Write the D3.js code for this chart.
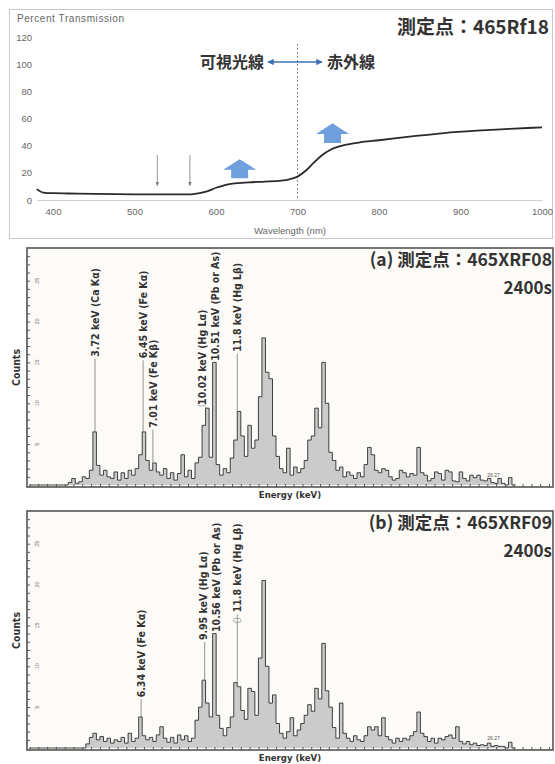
<!DOCTYPE html>
<html>
<head>
<meta charset="utf-8">
<script src="https://cdn.jsdelivr.net/npm/d3@7"></script>
<style>
  body { margin: 0; background: #fff; }
  svg text { font-family: "Liberation Sans", "DejaVu Sans", sans-serif; }
</style>
</head>
<body>
<svg id="fig" width="555" height="764"></svg>
<script>
// ---------- data: transmission spectrum (top panel)
const wavelength = [380, 388, 400, 420, 450, 500, 550, 570, 580, 590, 600, 610, 620, 640, 660, 680, 690, 700, 710, 720, 730, 740, 755, 775, 800, 840, 880, 920, 960, 1000]
const transmission = [8, 5.5, 5, 4.8, 4.5, 4.2, 4.1, 4.2, 5, 6.5, 9, 10.8, 12, 13, 13.5, 14.2, 15.2, 17.2, 21.5, 27.5, 33, 36.8, 40, 42.3, 44, 46.8, 49.3, 51, 52.3, 53.5]
const wlTicks = [400, 500, 600, 700, 800, 900, 1000]
const ptTicks = [0, 20, 40, 60, 80, 100, 120]
const thinArrowsNm = [528, 568]
const blockArrowsNm = [629, 743]

// ---------- data: XRF spectra, 0.2 keV channels starting at 0 keV
const binWidth = 0.2
const countsA = [
  0, 0, 0, 0, 0, 0, 0, 0, 0, 0, 0, 0.3, 0.8, 0.2, 0.4,
  1.0, 0.8, 1.8, 6.5, 2.4,
  1.2, 1.8, 1.0, 0.8, 1.6, 0.6, 1.5, 0.8, 1.8, 1.2,
  2.0, 3.7, 6.5, 3.0, 1.8, 2.7, 1.6, 1.2, 2.0, 0.8,
  1.5, 0.6, 1.4, 3.7, 1.0, 1.8, 0.8, 2.7, 3.4, 7.3,
  9.4, 3.4, 15, 2.5, 1.2, 2.0, 1.5, 3.3, 5.5, 9.0,
  6.0, 3.5, 7.3, 4.5, 5.5, 10.8, 18, 13.8, 13, 6.0,
  3.5, 2.0, 1.5, 4.5, 1.2, 2.2, 1.5, 2.0, 3.0, 5.5,
  6.0, 9.4, 7.0, 15, 10, 4.0, 3.0, 1.8, 2.2, 1.0,
  1.6, 1.2, 0.8, 1.5, 1.0, 2.5, 4.6, 3.7, 1.8, 1.5,
  2.0, 1.8, 1.0, 0.6, 0.8, 1.8, 1.5, 1.0, 1.4, 1.2,
  4.6, 1.5, 1.2, 0.5, 0.8, 1.6, 1.4, 0.6, 1.8, 1.6,
  0.5, 0.4, 1.6, 0.8, 0.5, 1.2, 0.9, 1.2, 0.6, 0.5,
  0.8, 0.3, 0.2, 0.8, 0.2, 0, 0.9, 0
]
const countsB = [
  0, 0, 0, 0, 0, 0, 0, 0, 0, 0, 0, 0, 0, 0, 0,
  0, 0.5, 1.3, 1.8, 1.0,
  1.4, 0.8, 1.2, 0.6, 1.0, 0.8, 1.3, 0.6, 1.8, 0.8,
  1.2, 3.8, 1.5, 1.0, 1.3, 0.8, 1.6, 2.6, 1.2, 0.7,
  1.3, 0.6, 1.6, 1.0, 1.5, 0.8, 1.2, 3.4, 5.0, 8.3,
  5.5, 3.8, 14, 4.0, 2.4, 1.5, 2.5, 3.8, 8.0, 7.5,
  4.6, 3.5, 7.3, 6.9, 4.0, 11, 20.5, 10, 5.5, 6.5,
  3.0, 1.8, 1.2, 2.0, 3.7, 1.5, 2.2, 3.0, 4.0, 5.3,
  4.5, 7.3, 6.0, 12.8, 7.0, 5.0, 2.5, 1.2, 5.5, 1.8,
  1.2, 0.8, 1.5, 1.0, 0.8, 1.5, 2.6, 2.2, 2.6, 1.5,
  3.7, 1.4, 1.0, 0.6, 1.2, 0.8, 1.2, 1.0, 1.5, 2.0,
  4.4, 1.8, 1.4, 0.8, 1.2, 0.6, 1.2, 1.0, 1.4, 1.6,
  1.2, 2.6, 0.8, 0.5, 0.8, 0.4, 0.6, 0.3, 0.4, 0.3,
  0.6, 0.2, 0.3, 0.2, 0.2, 0, 0.7, 0
]
const countTicks = [5, 10, 15, 20, 25]

// peak labels: energy, text, count level where the text starts
const labelsA = [
  { e: 3.72, text: '3.72 keV (Ca Kα)', base: 15.7 },
  { e: 6.45, text: '6.45 keV (Fe Kα)', base: 15.5 },
  { e: 7.01, text: '7.01 keV (Fe Kβ)', base: 7.0 },
  { e: 10.02, text: '10.02 keV (Hg Lα)', base: 9.8, ring: true, shift: -4 },
  { e: 10.51, text: '10.51 keV (Pb or As)', base: 15.2, shift: 1 },
  { e: 11.8, text: '11.8 keV (Hg Lβ)', base: 16.3 }
]
const labelsB = [
  { e: 6.34, text: '6.34 keV (Fe Kα)', base: 6.2 },
  { e: 9.95, text: '9.95 keV (Hg Lα)', base: 13.2, shift: -1 },
  { e: 10.56, text: '10.56 keV (Pb or As)', base: 14.2, shift: 1 },
  { e: 11.8, text: '11.8 keV (Hg Lβ)', base: 16.6, ring: true }
]

const svg = d3.select('#fig')
const cjk = '"Noto Sans CJK JP", "Noto Sans", sans-serif'
const cond = '"DejaVu Sans Condensed", "DejaVu Sans", sans-serif'

// ================= top panel =================
svg.append('rect')
  .attr('x', 9.5).attr('y', 9.5).attr('width', 543).attr('height', 229)
  .attr('fill', '#fff').attr('stroke', '#c9c9c9')

const xW = d3.scaleLinear().domain([380, 1000]).range([36.7, 542])
const yT = d3.scaleLinear().domain([0, 120]).range([200, 37])

const topPanel = svg.append('g').attr('id', 'transmission')

topPanel.append('g')
  .attr('transform', 'translate(0,200)')
  .call(d3.axisBottom(xW).tickValues(wlTicks).tickSize(0).tickPadding(8).tickFormat(d3.format('d')))
  .call(g => g.select('.domain').attr('stroke', '#d0d0d0'))
  .call(g => g.selectAll('text').attr('fill', '#666').style('font-size', '9.5px'))

topPanel.append('g')
  .attr('transform', 'translate(35,0)')
  .call(d3.axisLeft(yT).tickValues(ptTicks).tickSize(0).tickPadding(3))
  .call(g => g.select('.domain').remove())
  .call(g => g.selectAll('text').attr('fill', '#666').style('font-size', '9.5px'))

topPanel.append('text').attr('x', 17).attr('y', 22)
  .attr('fill', '#666').style('font-size', '10px').attr('textLength', 107).text('Percent Transmission')
topPanel.append('text').attr('x', 290).attr('y', 234).attr('text-anchor', 'middle')
  .attr('fill', '#666').style('font-size', '9.5px').text('Wavelength (nm)')

// 700 nm boundary
topPanel.append('line')
  .attr('x1', xW(700)).attr('x2', xW(700)).attr('y1', 44).attr('y2', 200)
  .attr('stroke', '#888').attr('stroke-width', 1).attr('stroke-dasharray', '2,2')

topPanel.append('path')
  .datum(wavelength.map((w, i) => [w, transmission[i]]))
  .attr('fill', 'none').attr('stroke', '#2a2a2a').attr('stroke-width', 1.8)
  .attr('d', d3.line().x(d => xW(d[0])).y(d => yT(d[1])).curve(d3.curveMonotoneX))

const defs = svg.append('defs')
defs.append('marker').attr('id', 'thinhead')
  .attr('viewBox', '0 0 10 10').attr('refX', 9).attr('refY', 5)
  .attr('markerWidth', 5).attr('markerHeight', 5).attr('orient', 'auto')
  .append('path').attr('d', 'M0,1L10,5L0,9Z').attr('fill', '#777')
defs.append('marker').attr('id', 'bluehead')
  .attr('viewBox', '0 0 10 10').attr('refX', 9).attr('refY', 5)
  .attr('markerWidth', 4).attr('markerHeight', 4).attr('orient', 'auto-start-reverse')
  .append('path').attr('d', 'M0,0L10,5L0,10Z').attr('fill', '#3d6fb6')

topPanel.selectAll('line.thin').data(thinArrowsNm).join('line')
  .attr('class', 'thin')
  .attr('x1', d => xW(d)).attr('x2', d => xW(d))
  .attr('y1', yT(33)).attr('y2', yT(10.5))
  .attr('stroke', '#888').attr('stroke-width', 0.9)
  .attr('marker-end', 'url(#thinhead)')

const blockY = [[30, 16], [56.5, 42]]
topPanel.selectAll('path.block').data(blockArrowsNm).join('path')
  .attr('class', 'block')
  .attr('fill', '#6f9fdc')
  .attr('d', (d, i) => {
    const cx = xW(d), y0 = yT(blockY[i][0]), y1 = yT(blockY[i][1])
    const hh = (y1 - y0) * 0.55
    return `M${cx},${y0}L${cx + 16.5},${y0 + hh}L${cx + 8.5},${y0 + hh}L${cx + 8.5},${y1}` +
      `L${cx - 8.5},${y1}L${cx - 8.5},${y0 + hh}L${cx - 16.5},${y0 + hh}Z`
  })

topPanel.append('line')
  .attr('x1', 268).attr('x2', 322).attr('y1', 62).attr('y2', 62)
  .attr('stroke', '#3d6fb6').attr('stroke-width', 1.6)
  .attr('marker-start', 'url(#bluehead)').attr('marker-end', 'url(#bluehead)')
topPanel.append('text').attr('x', 264).attr('y', 68).attr('text-anchor', 'end')
  .style('font-family', cjk).style('font-weight', 700).style('font-size', '16px')
  .attr('fill', '#333').text('可視光線')
topPanel.append('text').attr('x', 327).attr('y', 68)
  .style('font-family', cjk).style('font-weight', 700).style('font-size', '16px')
  .attr('fill', '#333').text('赤外線')
topPanel.append('text').attr('x', 549).attr('y', 34).attr('text-anchor', 'end')
  .style('font-family', cjk).style('font-weight', 700).style('font-size', '19px')
  .attr('fill', '#333').text('測定点：465Rf18')

// ================= XRF panels =================
const xE = d3.scaleLinear().domain([0, 29.73]).range([29.5, 553])

function drawXRF(counts, labels, opt) {
  const g = svg.append('g').attr('id', 'xrf-' + opt.id)
  const y = d3.scaleLinear().domain([0, 29]).range([opt.bottom - 2, opt.top])

  g.append('rect')
    .attr('x', 27).attr('y', opt.top).attr('width', 526).attr('height', opt.bottom - opt.top)
    .attr('fill', '#fdfbf8')

  defs.append('clipPath').attr('id', 'clip-' + opt.id)
    .append('rect').attr('x', 27).attr('y', opt.top)
    .attr('width', 526).attr('height', opt.bottom - opt.top)

  const pts = counts.map((c, i) => ({ e: i * binWidth, c: c }))
  pts.push({ e: counts.length * binWidth, c: 0 })
  const plot = g.append('g').attr('clip-path', `url(#clip-${opt.id})`)
  plot.append('path').datum(pts)
    .attr('fill', '#cbcbcb')
    .attr('d', d3.area().x(d => xE(d.e)).y0(y(0)).y1(d => y(d.c)).curve(d3.curveStepAfter))
  plot.append('path').datum(pts)
    .attr('fill', 'none').attr('stroke', '#2e2e2e').attr('stroke-width', 0.9)
    .attr('d', d3.line().x(d => xE(d.e)).y(d => y(d.c)).curve(d3.curveStepAfter))

  // dense ticks on the frame
  g.append('g').attr('transform', `translate(0,${opt.bottom})`)
    .call(d3.axisTop(xE).tickValues(d3.range(0, 29.6, 0.5)).tickSize(3).tickFormat(''))
    .call(a => a.select('.domain').remove())
    .call(a => a.selectAll('line').attr('stroke', '#555'))
  g.append('g').attr('transform', 'translate(27,0)')
    .call(d3.axisRight(y).tickValues(d3.range(1, 29, 1)).tickSize(3).tickFormat(''))
    .call(a => a.select('.domain').remove())
    .call(a => a.selectAll('line').attr('stroke', '#555'))
  g.selectAll('text.ctick').data(countTicks).join('text')
    .attr('class', 'ctick')
    .attr('transform', d => `translate(37,${y(d)}) rotate(-90)`)
    .attr('text-anchor', 'middle').attr('dy', '0.35em')
    .attr('fill', '#777').style('font-size', '5.5px')
    .text(d => d)

  g.append('rect')
    .attr('x', 27).attr('y', opt.top).attr('width', 526).attr('height', opt.bottom - opt.top)
    .attr('fill', 'none').attr('stroke', '#555').attr('stroke-width', 1.6)

  // peak labels with leader lines
  labels.forEach(l => {
    const x = xE(l.e)
    const peak = counts[Math.floor(l.e / binWidth + 1e-6)]
    if (l.base - peak > 0.4) {
      g.append('line')
        .attr('x1', x).attr('x2', x).attr('y1', y(l.base) + 2).attr('y2', y(peak))
        .attr('stroke', '#777').attr('stroke-width', 0.8)
    }
    if (l.ring) {
      g.append('ellipse')
        .attr('cx', x - (opt.id === 'a' ? 4 : 0)).attr('cy', y(l.base) - (opt.id === 'a' ? 1 : -8))
        .attr('rx', 4).attr('ry', 2.2)
        .attr('fill', 'none').attr('stroke', '#999').attr('stroke-width', 0.8)
    }
    g.append('text')
      .attr('transform', `translate(${x + (l.shift || 0)},${y(l.base)}) rotate(-90)`)
      .attr('dy', '0.35em')
      .attr('fill', '#333')
      .style('font-family', cond)
      .style('font-weight', 700).style('font-size', '10.5px')
      .text(l.text)
  })

  g.append('text').attr('x', xE(26.0)).attr('y', y(1.0))
    .attr('fill', '#555').style('font-size', '5px').text('26.27')

  g.append('text')
    .attr('transform', `translate(16,${(opt.top + opt.bottom) / 2}) rotate(-90)`)
    .attr('text-anchor', 'middle').attr('dy', '0.35em')
    .attr('fill', '#333').style('font-weight', 700).style('font-size', '10.5px')
    .style('font-family', cond)
    .text('Counts')
  g.append('text').attr('x', 290).attr('y', opt.bottom + 11).attr('text-anchor', 'middle')
    .attr('fill', '#333').style('font-weight', 700).style('font-size', '9.5px')
    .style('font-family', cond)
    .text('Energy (keV)')

  g.append('text').attr('x', 552).attr('y', opt.top + 18).attr('text-anchor', 'end')
    .style('font-family', cjk).style('font-weight', 700).style('font-size', '17.5px')
    .attr('fill', '#333').text(opt.title)
  g.append('text').attr('x', 552).attr('y', opt.top + 46).attr('text-anchor', 'end')
    .style('font-family', cjk).style('font-weight', 700).style('font-size', '17px')
    .attr('fill', '#333').text('2400s')
}

drawXRF(countsA, labelsA, { id: 'a', top: 248, bottom: 487, title: '(a) 測定点：465XRF08' })
drawXRF(countsB, labelsB, { id: 'b', top: 511, bottom: 750, title: '(b) 測定点：465XRF09' })
</script>
</body>
</html>
